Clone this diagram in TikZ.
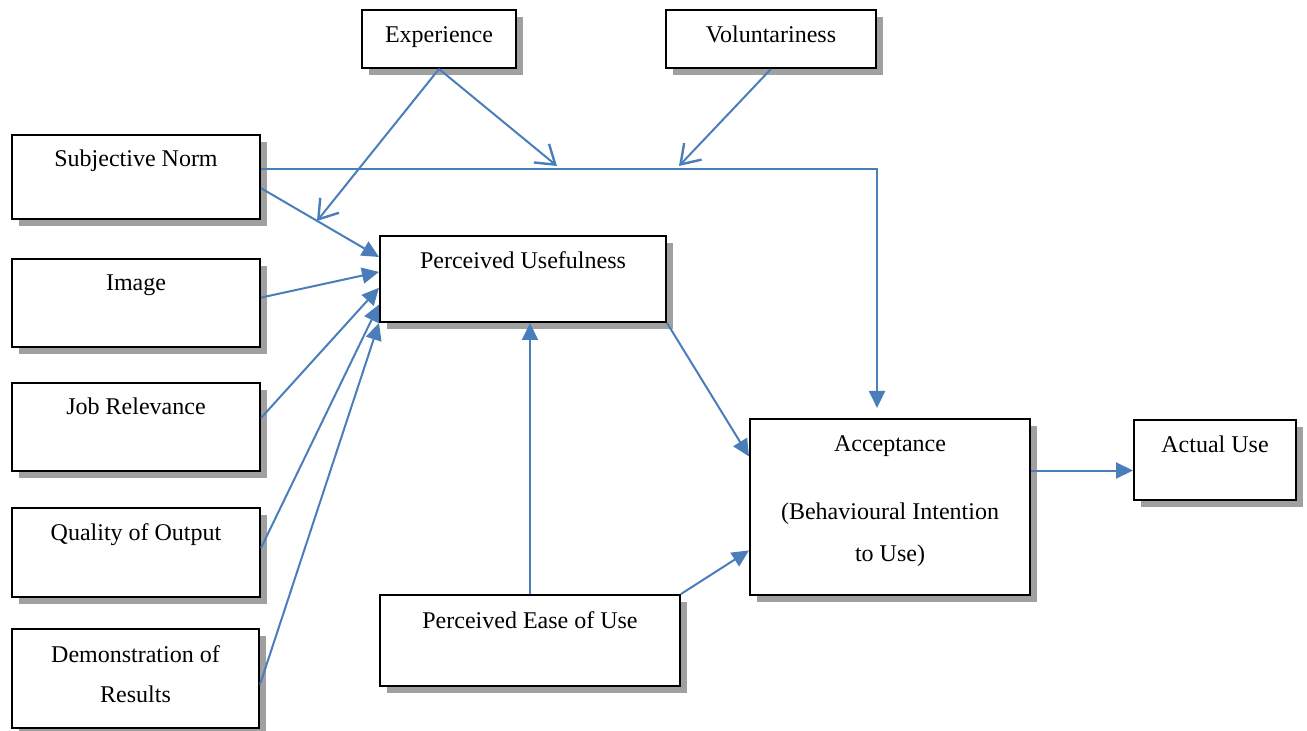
\documentclass[tikz,border=0pt]{standalone}
\usepackage{fontspec}
\setmainfont{Liberation Serif}
\usetikzlibrary{arrows.meta, calc, shadows}
\definecolor{linkblue}{RGB}{74,126,187}
\definecolor{shadowgray}{RGB}{160,160,160}

\begin{document}
\begin{tikzpicture}[
    x=0.5pt, y=-0.5pt,
    box/.style={rectangle, draw, line width=1pt, fill=white, anchor=north west, inner sep=0pt, align=center,
        font=\fontsize{12}{20}\selectfont,
        drop shadow={shadow xshift=3.5pt, shadow yshift=-3.5pt, fill=shadowgray, opacity=1}},
    leftbox/.style={box, minimum width=124pt},
    toptext/.style={text height=8pt, text depth=20pt},
    arrow/.style={draw=linkblue, line width=1pt, -{Triangle[length=8.5pt, width=8pt]}},
    modarrow/.style={draw=linkblue, line width=1pt, -{Straight Barb[length=9pt, width=12pt, line width=1.2pt]}},
]
\useasboundingbox (0,0) rectangle (1307,731);

% moderators
\node[box, minimum width=77pt, minimum height=29pt, text height=8pt, text depth=4pt] (exp) at (361,9) {Experience};
\node[box, minimum width=105pt, minimum height=29pt, text height=8pt, text depth=4pt] (vol) at (665,9) {Voluntariness};

% determinants of usefulness
\node[leftbox, toptext, text depth=18pt, minimum height=42pt] (sn) at (11,134) {Subjective Norm};
\node[leftbox, toptext, minimum height=44pt] (img) at (11,258) {Image};
\node[leftbox, toptext, minimum height=44pt] (jr) at (11,382) {Job Relevance};
\node[leftbox, toptext, minimum height=44.5pt] (qo) at (11,507) {Quality of Output};
\node[leftbox, minimum width=123.5pt, minimum height=49.5pt, text depth=4.5pt] (dr) at (11,628) {Demonstration of\\Results};

% core model
\node[box, toptext, text depth=18pt, minimum width=143pt, minimum height=43pt] (pu) at (379,235) {Perceived Usefulness};
\node[box, toptext, minimum width=150pt, minimum height=45.5pt] (peou) at (379,594) {Perceived Ease of Use};
\node[box, minimum width=140pt, minimum height=88pt, text depth=8.5pt, font=\fontsize{12}{21}\selectfont] (acc) at (749,418) {Acceptance\\[13pt](Behavioural Intention\\to Use)};
\node[box, minimum width=81pt, minimum height=40pt, text height=8pt, text depth=15pt] (use) at (1133,419) {Actual Use};

\coordinate (m0) at (317,221);
\coordinate (m1) at (557,166);
\coordinate (m2) at (679,166);
\coordinate (accout) at ($(acc.north east)!.295!(acc.south east)$);

\draw[arrow] ($(sn.north east)!.63!(sn.south east)$) -- ($(pu.north west)!.25!(pu.south west)$);
\draw[arrow] ($(img.north east)!.44!(img.south east)$) -- ($(pu.north west)!.42!(pu.south west)$);
\draw[arrow] ($(jr.north east)!.40!(jr.south east)$) -- ($(pu.north west)!.6!(pu.south west)$);
\draw[arrow] ($(qo.north east)!.45!(qo.south east)$) -- ($(pu.north west)!.79!(pu.south west)$);
\draw[arrow] ($(dr.north east)!.56!(dr.south east)$) -- (pu.south west);
\draw[arrow, shorten >=5pt] ($(sn.north east)!.405!(sn.south east)$) -| ($(acc.north west)!.454!(acc.north east)$);

\draw[modarrow] (exp.south) -- (m0);
\draw[modarrow] (exp.south) -- (m1);
\draw[modarrow] (vol.south) -- (m2);

\draw[arrow] (peou.north) -- (peou.north |- pu.south);
\draw[arrow] (pu.south east) -- ($(acc.north west)!.216!(acc.south west)$);
\draw[arrow] (peou.north east) -- ($(acc.north west)!.744!(acc.south west)$);
\draw[arrow] (accout) -- (accout -| use.west);

\end{tikzpicture}
\end{document}
